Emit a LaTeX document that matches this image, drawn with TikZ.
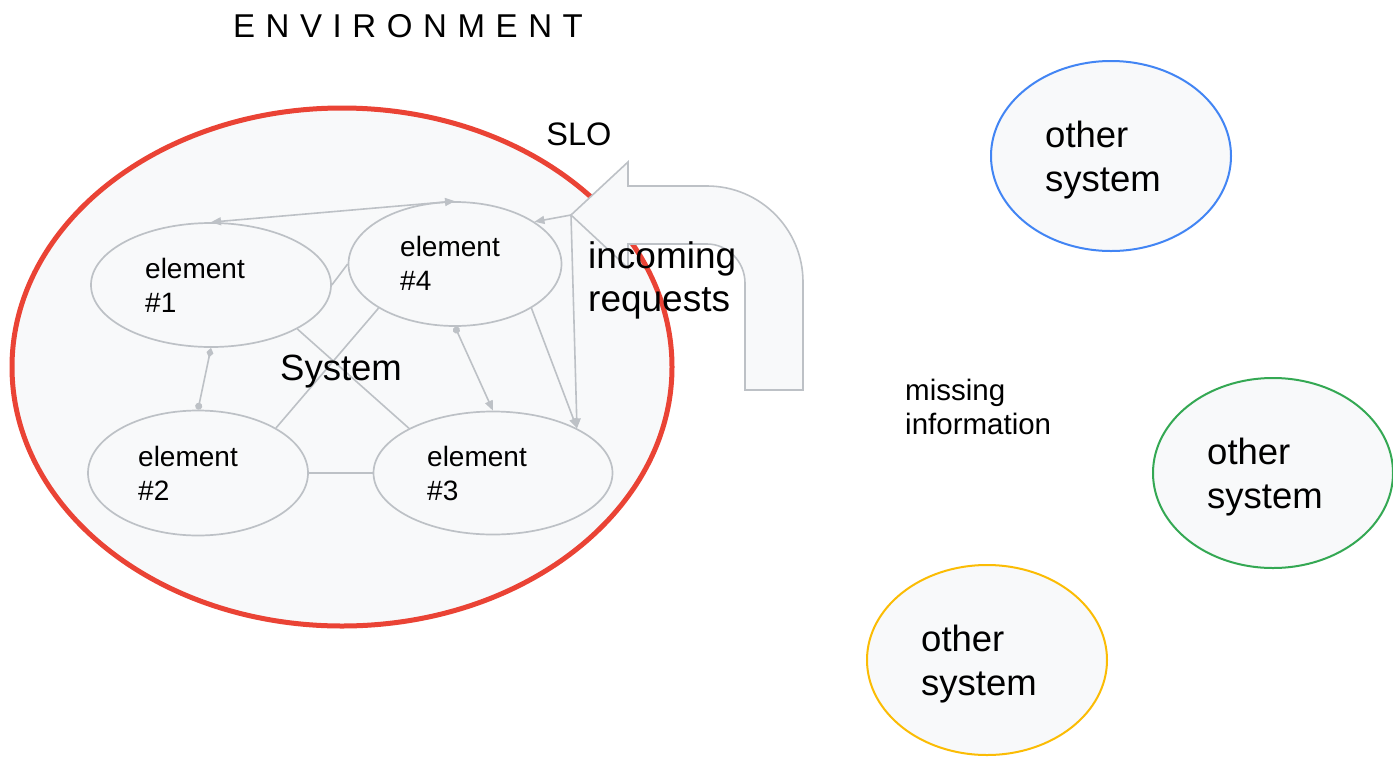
\documentclass[tikz,border=0pt]{standalone}
\usepackage{fontspec}
\setmainfont{Liberation Sans}
\usetikzlibrary{shapes.geometric,arrows.meta}
\definecolor{redc}{HTML}{EA4335}
\definecolor{grayc}{HTML}{BDC1C6}
\definecolor{fillc}{HTML}{F8F9FA}
\definecolor{bluec}{HTML}{4285F4}
\definecolor{greenc}{HTML}{34A853}
\definecolor{yellowc}{HTML}{FBBC04}
\begin{document}
\begin{tikzpicture}[x=1pt,y=-1pt,
  elem/.style={ellipse,draw=grayc,line width=1.7pt,fill=fillc,inner sep=0pt},
  othersys/.style={ellipse,line width=2pt,fill=fillc,inner sep=0pt,minimum width=240pt,minimum height=190pt},
  conn/.style={draw=grayc,line width=1.6pt},
  tri/.tip={Triangle[length=10pt,width=8pt]},
  lbl/.style={inner sep=0pt,align=left,anchor=west,text=black}]
\useasboundingbox[fill=white] (0,0) rectangle (1393,756);

% system boundary
\node[ellipse,draw=redc,line width=5pt,fill=fillc,minimum width=660pt,minimum height=518pt,inner sep=0pt] (sys) at (342,367) {};

% elements
\node[elem,minimum width=240pt,minimum height=124pt] (e1) at (211,285) {};
\node[elem,minimum width=213pt,minimum height=124pt] (e4) at (455,264) {};
\node[elem,minimum width=220pt,minimum height=125pt] (e2) at (198,473) {};
\node[elem,minimum width=239pt,minimum height=123pt] (e3) at (493,473) {};

\coordinate (src) at (571,215);

% connectors
\draw[conn,tri-tri] (e1.north) -- (e4.north);
\draw[conn] (e1.east) -- (e4.west);
\draw[conn] (e1.-27) -- (e3.152);
\draw[conn] (e4.210) -- (e2.30);
\draw[conn,{Diamond[length=10pt,width=7pt]}-{Circle[length=7pt]}] (e1.south) -- (e2.north);
\draw[conn,{Circle[length=7pt]}-tri] (e4.south) -- (e3.north);
\draw[conn,-tri] (e4.-30) -- (e3.28);
\draw[conn] (e2.east) -- (e3.west);
\draw[conn,-tri] (src) -- (e4.28);
\draw[conn,-tri] (src) -- (e3.28);

% incoming requests arrow
\draw[draw=grayc,line width=1.6pt,fill=fillc,line join=miter]
  (src) -- (628,162) -- (628,186) -- (707,186)
  .. controls (760,186) and (803,229) .. (803,282)
  -- (803,390) -- (745,390) -- (745,283)
  .. controls (745,262) and (728,244) .. (707,244)
  -- (628,244) -- (628,268) -- cycle;

% other systems
\node[othersys,draw=bluec] (o1) at (1111,156) {};
\node[othersys,draw=greenc] (o2) at (1273,473) {};
\node[othersys,draw=yellowc] (o3) at (987,660) {};

% texts
\node[inner sep=0pt,font=\fontsize{33}{40}\selectfont] (env) at (408,26)
  {E\kern10.6pt N\kern10.6pt V\kern10.6pt I\kern10.6pt R\kern10.6pt O\kern10.6pt N\kern10.6pt M\kern10.6pt E\kern10.6pt N\kern10.6pt T};
\node[inner sep=0pt,font=\fontsize{32.5}{38}\selectfont] (slo) at (579,134) {SLO};
\node[inner sep=0pt,font=\fontsize{36.5}{44}\selectfont] (systxt) at (341,372) {System};
\node[lbl,font=\fontsize{28}{34}\selectfont] (t1) at (145,285) {element\\\#1};
\node[lbl,font=\fontsize{28}{34}\selectfont] (t4) at (400,263) {element\\\#4};
\node[lbl,font=\fontsize{28}{34}\selectfont] (t2) at (138,473) {element\\\#2};
\node[lbl,font=\fontsize{28}{34}\selectfont] (t3) at (427,473) {element\\\#3};
\node[lbl,font=\fontsize{37}{43}\selectfont] (inc) at (588,280) {incoming\\requests};
\node[lbl,font=\fontsize{29.5}{34}\selectfont] (miss) at (905,407) {missing\\information};
\node[lbl,font=\fontsize{36.5}{44.5}\selectfont] (ot1) at (1045,160) {other\\system};
\node[lbl,font=\fontsize{36.5}{44.5}\selectfont] (ot2) at (1207,477) {other\\system};
\node[lbl,font=\fontsize{36.5}{44.5}\selectfont] (ot3) at (921,664) {other\\system};
\end{tikzpicture}
\end{document}
